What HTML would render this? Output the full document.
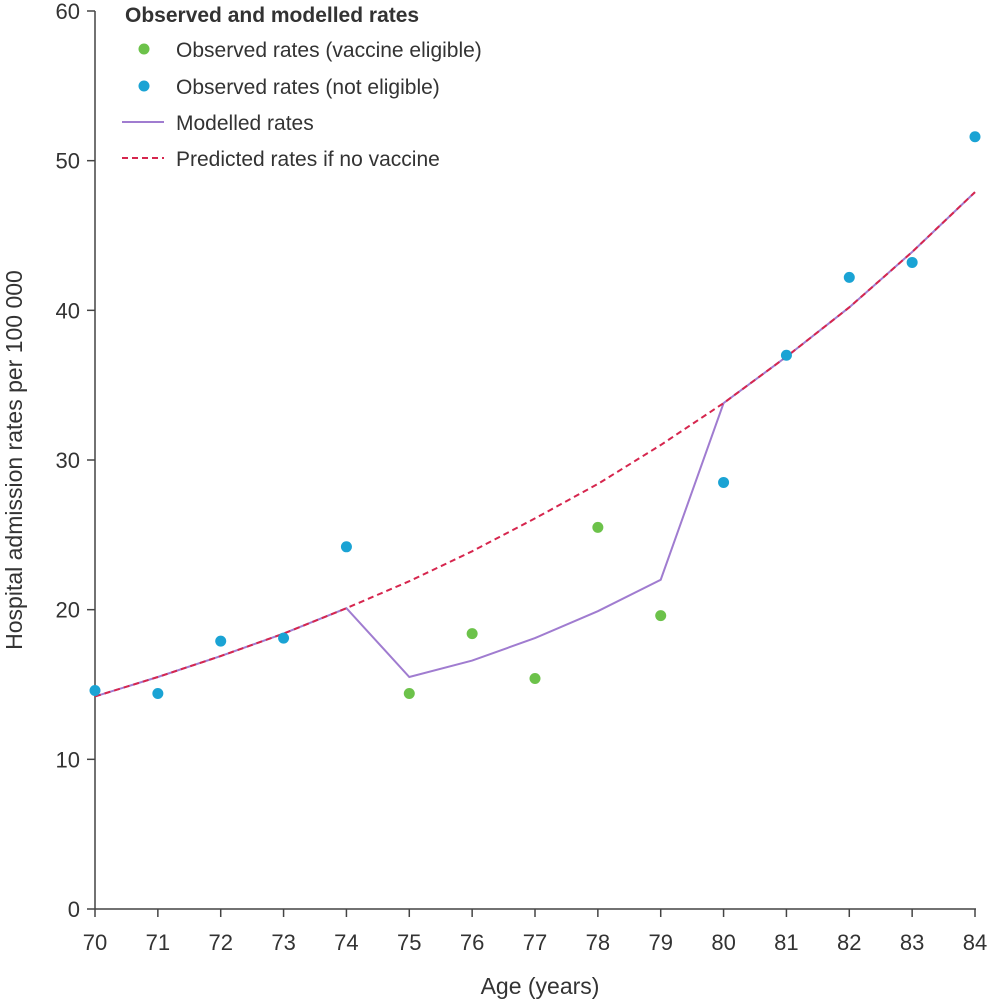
<!DOCTYPE html>
<html><head><meta charset="utf-8"><style>
body{margin:0;background:#fff}
svg text{font-family:"Liberation Sans",sans-serif;fill:#333}
</style></head><body>
<svg id="chart" width="992" height="1000">
<g id="axes"></g><g id="lines"></g><g id="pts"></g>
<g>
<text x="125" y="22" font-size="21" font-weight="bold" fill="#222">Observed and modelled rates</text>
<g><circle cx="144" cy="49" r="5.5" fill="#6cc24a"/><text x="176" y="57" font-size="21">Observed rates (vaccine eligible)</text></g>
<g><circle cx="144" cy="86" r="5.5" fill="#1aa3d4"/><text x="176" y="94" font-size="21">Observed rates (not eligible)</text></g>
<g><line x1="122" y1="122" x2="164" y2="122" stroke="#a07cd0" stroke-width="2"/><text x="176" y="130" font-size="21">Modelled rates</text></g>
<g><line x1="122" y1="158" x2="164" y2="158" stroke="#d6264e" stroke-width="2" stroke-dasharray="6,4"/><text x="176" y="166" font-size="21">Predicted rates if no vaccine</text></g>
</g>
<text x="540" y="994" font-size="23" text-anchor="middle">Age (years)</text>
<text transform="translate(22,460) rotate(-90)" font-size="23" text-anchor="middle">Hospital admission rates per 100 000</text>
</svg>
<script>
const ages=[70,71,72,73,74,75,76,77,78,79,80,81,82,83,84];
const observed=[14.6,14.4,17.9,18.1,24.2,14.4,18.4,15.4,25.5,19.6,28.5,37.0,42.2,43.2,51.6];
const eligible=[false,false,false,false,false,true,true,true,true,true,false,false,false,false,false];
const modelled=[14.2,15.5,16.9,18.4,20.1,15.5,16.6,18.1,19.9,22.0,33.8,36.9,40.2,43.9,47.9];
const predicted=[14.2,15.5,16.9,18.4,20.1,21.9,23.9,26.1,28.4,31.0,33.8,36.9,40.2,43.9,47.9];
const yTicks=[0,10,20,30,40,50,60];
const NS='http://www.w3.org/2000/svg';
const X=a=>95+(a-70)*(975-95)/14;
const Y=v=>909-v*(909-11)/60;
function mk(t,p,at){const e=document.createElementNS(NS,t);for(const k in at)e.setAttribute(k,at[k]);p.appendChild(e);return e;}
const ax=document.getElementById('axes');
let e=mk('line',ax,{x1:95,y1:11,x2:95,y2:909,stroke:'#444','stroke-width':1.5});


e=mk('line',ax,{x1:95,y1:909,x2:976,y2:909,stroke:'#444','stroke-width':1.5});


yTicks.forEach(v=>{
 mk('line',ax,{x1:87,y1:Y(v),x2:95,y2:Y(v),stroke:'#444','stroke-width':1.5});
 const t=mk('text',ax,{x:80,y:Y(v)+8,'font-size':22,'text-anchor':'end'});t.textContent=v;
 
 
});
ages.forEach(a=>{
 mk('line',ax,{x1:X(a),y1:909,x2:X(a),y2:917,stroke:'#444','stroke-width':1.5});
 const t=mk('text',ax,{x:X(a),y:950,'font-size':22,'text-anchor':'middle'});t.textContent=a;
 
 
});
const L=document.getElementById('lines');
e=mk('polyline',L,{points:ages.map((a,i)=>X(a)+','+Y(modelled[i])).join(' '),fill:'none',stroke:'#a07cd0','stroke-width':2});


e=mk('polyline',L,{points:ages.map((a,i)=>X(a)+','+Y(predicted[i])).join(' '),fill:'none',stroke:'#d6264e','stroke-width':2,'stroke-dasharray':'6,4'});


const P=document.getElementById('pts');
ages.forEach((a,i)=>{
 const c=mk('circle',P,{cx:X(a),cy:Y(observed[i]),r:5.5,fill:eligible[i]?'#6cc24a':'#1aa3d4'});
 
 
});
</script>
</body></html>
